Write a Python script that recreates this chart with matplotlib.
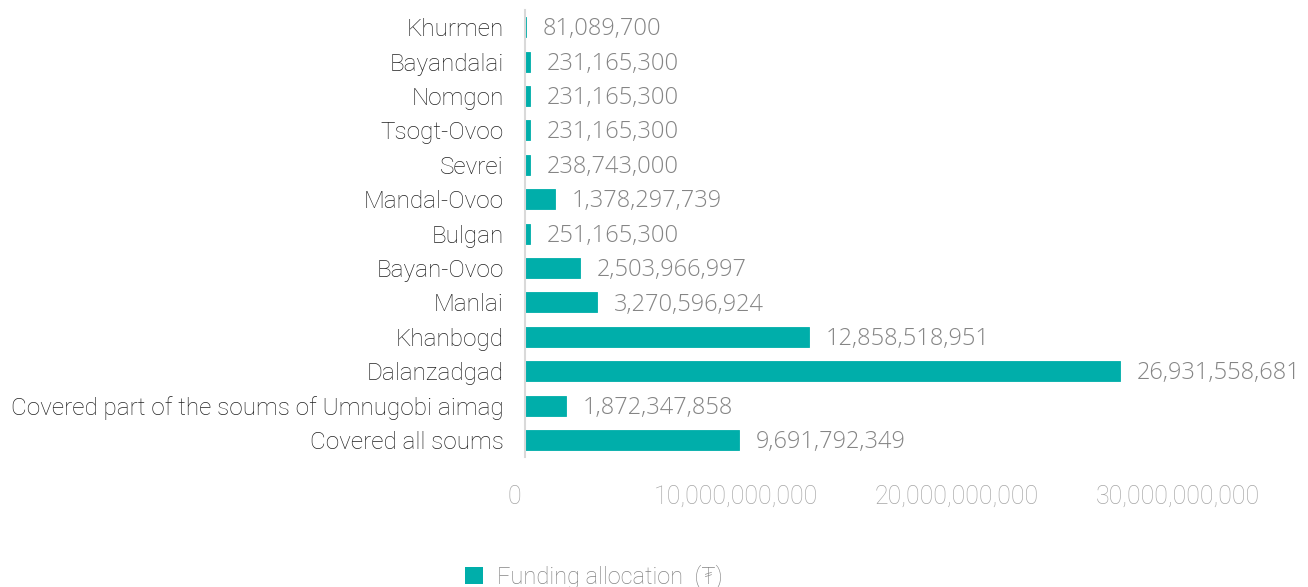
import matplotlib
matplotlib.use("Agg")
import matplotlib.pyplot as plt
import matplotlib.transforms as mtransforms
from matplotlib.patches import Patch

categories = ["Khurmen", "Bayandalai", "Nomgon", "Tsogt-Ovoo", "Sevrei", "Mandal-Ovoo",
              "Bulgan", "Bayan-Ovoo", "Manlai", "Khanbogd", "Dalanzadgad",
              "Covered part of the soums of Umnugobi aimag", "Covered all soums"]
values = [81089700, 231165300, 231165300, 231165300, 238743000, 1378297739,
          251165300, 2503966997, 3270596924, 12858518951, 26931558681,
          1872347858, 9691792349]
xticks = [0, 10000000000, 20000000000, 30000000000]
legend_label = "Funding allocation  (₮)"

TEAL = "#00aeaa"
FONT = ["Roboto", "DejaVu Sans"]
VFONT = ["Open Sans", "DejaVu Sans"]

fig = plt.figure(figsize=(13.08, 5.87), dpi=100)
ax = fig.add_axes([0.401, 0.221, 0.507, 0.762])

ypos = list(range(len(categories)))[::-1]
# thin edge so that very small bars (Khurmen) still show up
ax.barh(ypos, values, height=0.58, color=TEAL, edgecolor=TEAL, linewidth=0.6)

for y, v in zip(ypos, values):
    ax.annotate(f"{v:,}", xy=(v, y), xytext=(12, -1.5), textcoords="offset points",
                va="center", ha="left", fontsize=17, color="#858585",
                family=VFONT, fontweight="light")

ax.set_xlim(0, 30000000000)
ax.set_ylim(-0.5, len(categories) - 0.5)
ax.set_yticks(ypos)
ax.set_yticklabels(categories, fontsize=17.5, color="#222222", family=FONT, fontweight="light")
ax.set_xticks(xticks)
ax.set_xticklabels([f"{t:,}" for t in xticks], fontsize=18, color="#a6a6a6",
                   family=FONT, fontweight="light")
ax.tick_params(axis="both", length=0)
ax.tick_params(axis="x", pad=20)
ax.tick_params(axis="y", pad=15)

# tick labels sit slightly left of their ticks in the original
shift = mtransforms.ScaledTranslation(-10 / 100, 0, fig.dpi_scale_trans)
for lbl in ax.get_xticklabels():
    lbl.set_transform(lbl.get_transform() + shift)

for s in ["top", "right", "bottom"]:
    ax.spines[s].set_visible(False)
ax.spines["left"].set_color("#d9d9d9")
ax.spines["left"].set_linewidth(1.5)

handle = Patch(facecolor=TEAL, edgecolor="none")
fig.legend([handle], [legend_label], loc="lower center", bbox_to_anchor=(0.454, -0.04),
           frameon=False, handlelength=0.75, handleheight=0.75, handletextpad=0.6,
           prop={"family": FONT, "size": 17, "weight": "light"}, labelcolor="#858585")

fig.savefig("out.png", dpi=100)
